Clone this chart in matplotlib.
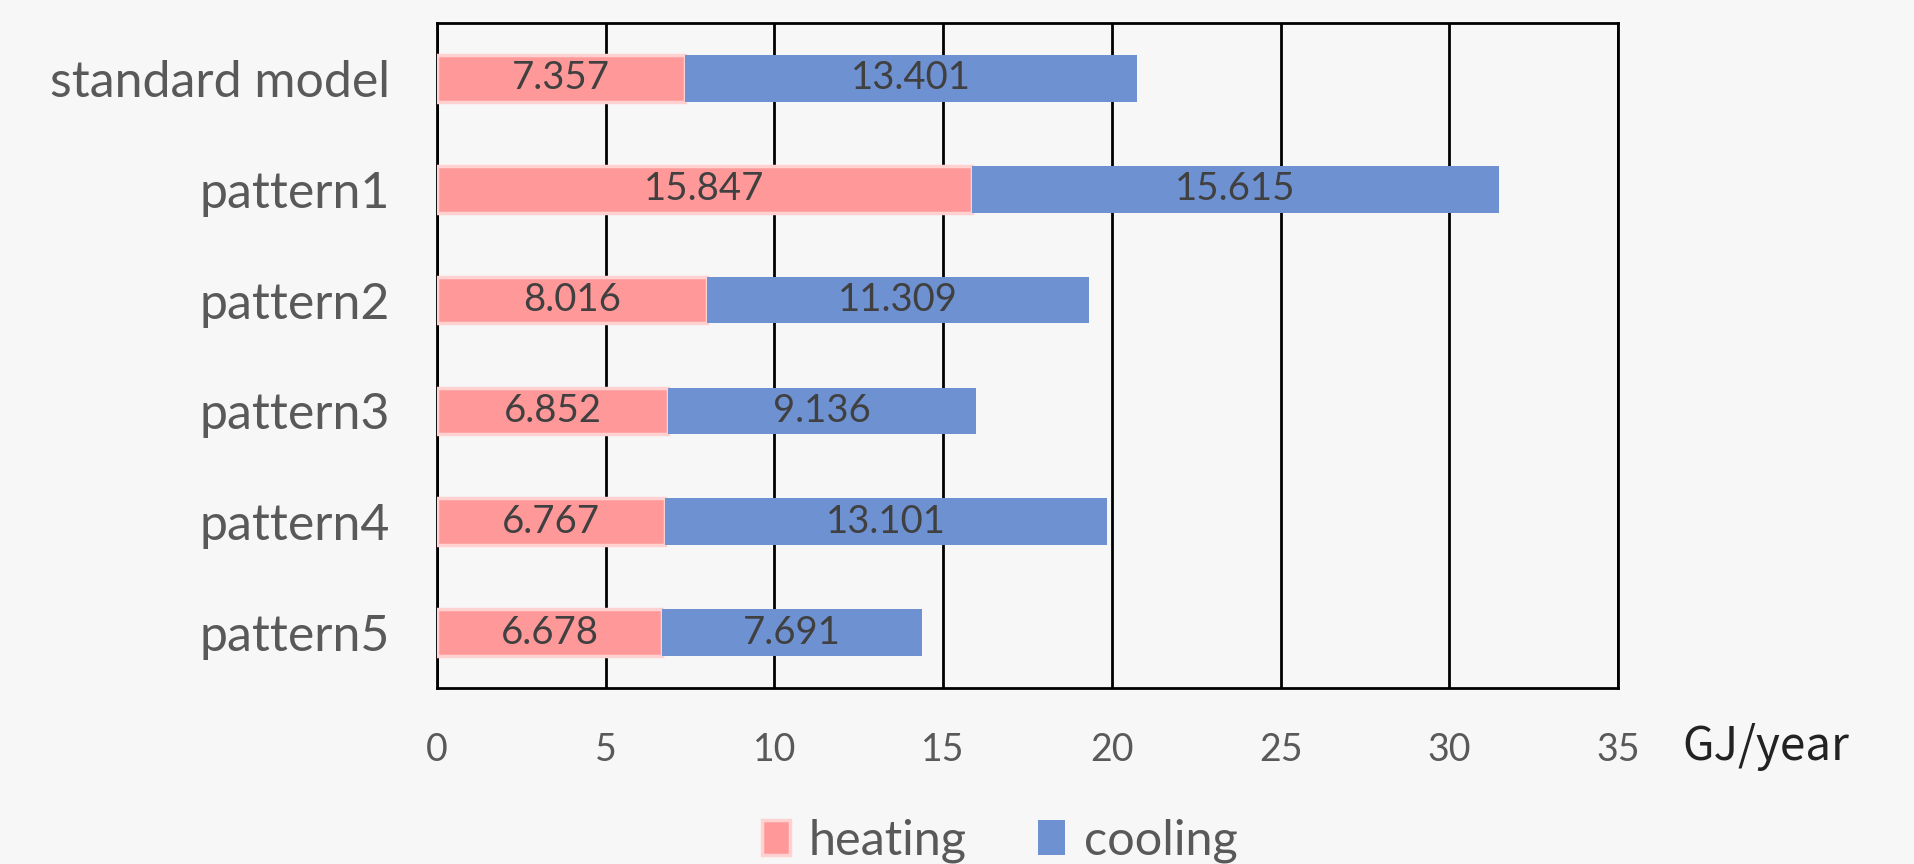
import matplotlib
matplotlib.use("Agg")
import matplotlib.pyplot as plt
from matplotlib.patches import Patch

# data
categories = ["standard model", "pattern1", "pattern2", "pattern3", "pattern4", "pattern5"]
heating = [7.357, 15.847, 8.016, 6.852, 6.767, 6.678]
cooling = [13.401, 15.615, 11.309, 9.136, 13.101, 7.691]
xticks = [0, 5, 10, 15, 20, 25, 30, 35]

heat_col = "#FF9999"
heat_edge = "#FFD1D1"
cool_col = "#6E91D1"
bg = "#F7F7F7"

plt.rcParams["font.family"] = ["Lato", "DejaVu Sans"]

fig = plt.figure(figsize=(19.14, 8.64), dpi=100, facecolor=bg)
ax = fig.add_axes([437 / 1914, 1 - 688 / 864, (1618 - 437) / 1914, (688 - 23) / 864])
ax.set_facecolor(bg)

ypos = list(range(len(categories)))
bh = 0.42

ax.barh(ypos, heating, height=bh, color=heat_col, edgecolor=heat_edge, linewidth=2.5, zorder=3)
ax.barh(ypos, cooling, left=heating, height=bh, color=cool_col, zorder=3)

# value labels
for y, h, c in zip(ypos, heating, cooling):
    ax.text(h / 2, y, f"{h:.3f}", ha="center", va="center", fontsize=27.5, color="#404040", zorder=4)
    ax.text(h + c / 2, y, f"{c:.3f}", ha="center", va="center", fontsize=27.5, color="#404040", zorder=4)

ax.set_xlim(0, 35)
ax.set_ylim(len(categories) - 0.5, -0.5)
ax.set_xticks(xticks)
ax.set_yticks(ypos)
ax.set_yticklabels(categories)
ax.tick_params(axis="x", length=0, pad=32, labelsize=27, labelcolor="#595959")
ax.tick_params(axis="y", length=0, pad=34, labelsize=36, labelcolor="#595959")

ax.grid(axis="x", color="black", linewidth=2.0, zorder=1)
for s in ax.spines.values():
    s.set_color("black")
    s.set_linewidth(2.0)

fig.text(1682 / 1914, 1 - 747 / 864, "GJ/year", ha="left", va="center",
         fontsize=33, color="#222222", family=["Noto Sans CJK JP", "DejaVu Sans"])

handles = [Patch(facecolor=heat_col, edgecolor=heat_edge, linewidth=2.5, label="heating"),
           Patch(facecolor=cool_col, label="cooling")]
fig.legend(handles=handles, loc="center", bbox_to_anchor=(1000 / 1914, 1 - 841 / 864), ncol=2,
           frameon=False, fontsize=35, labelcolor="#595959", handlelength=0.57, handleheight=0.74,
           handletextpad=0.39, columnspacing=1.46)

fig.savefig("out.png", dpi=100, facecolor=bg)
